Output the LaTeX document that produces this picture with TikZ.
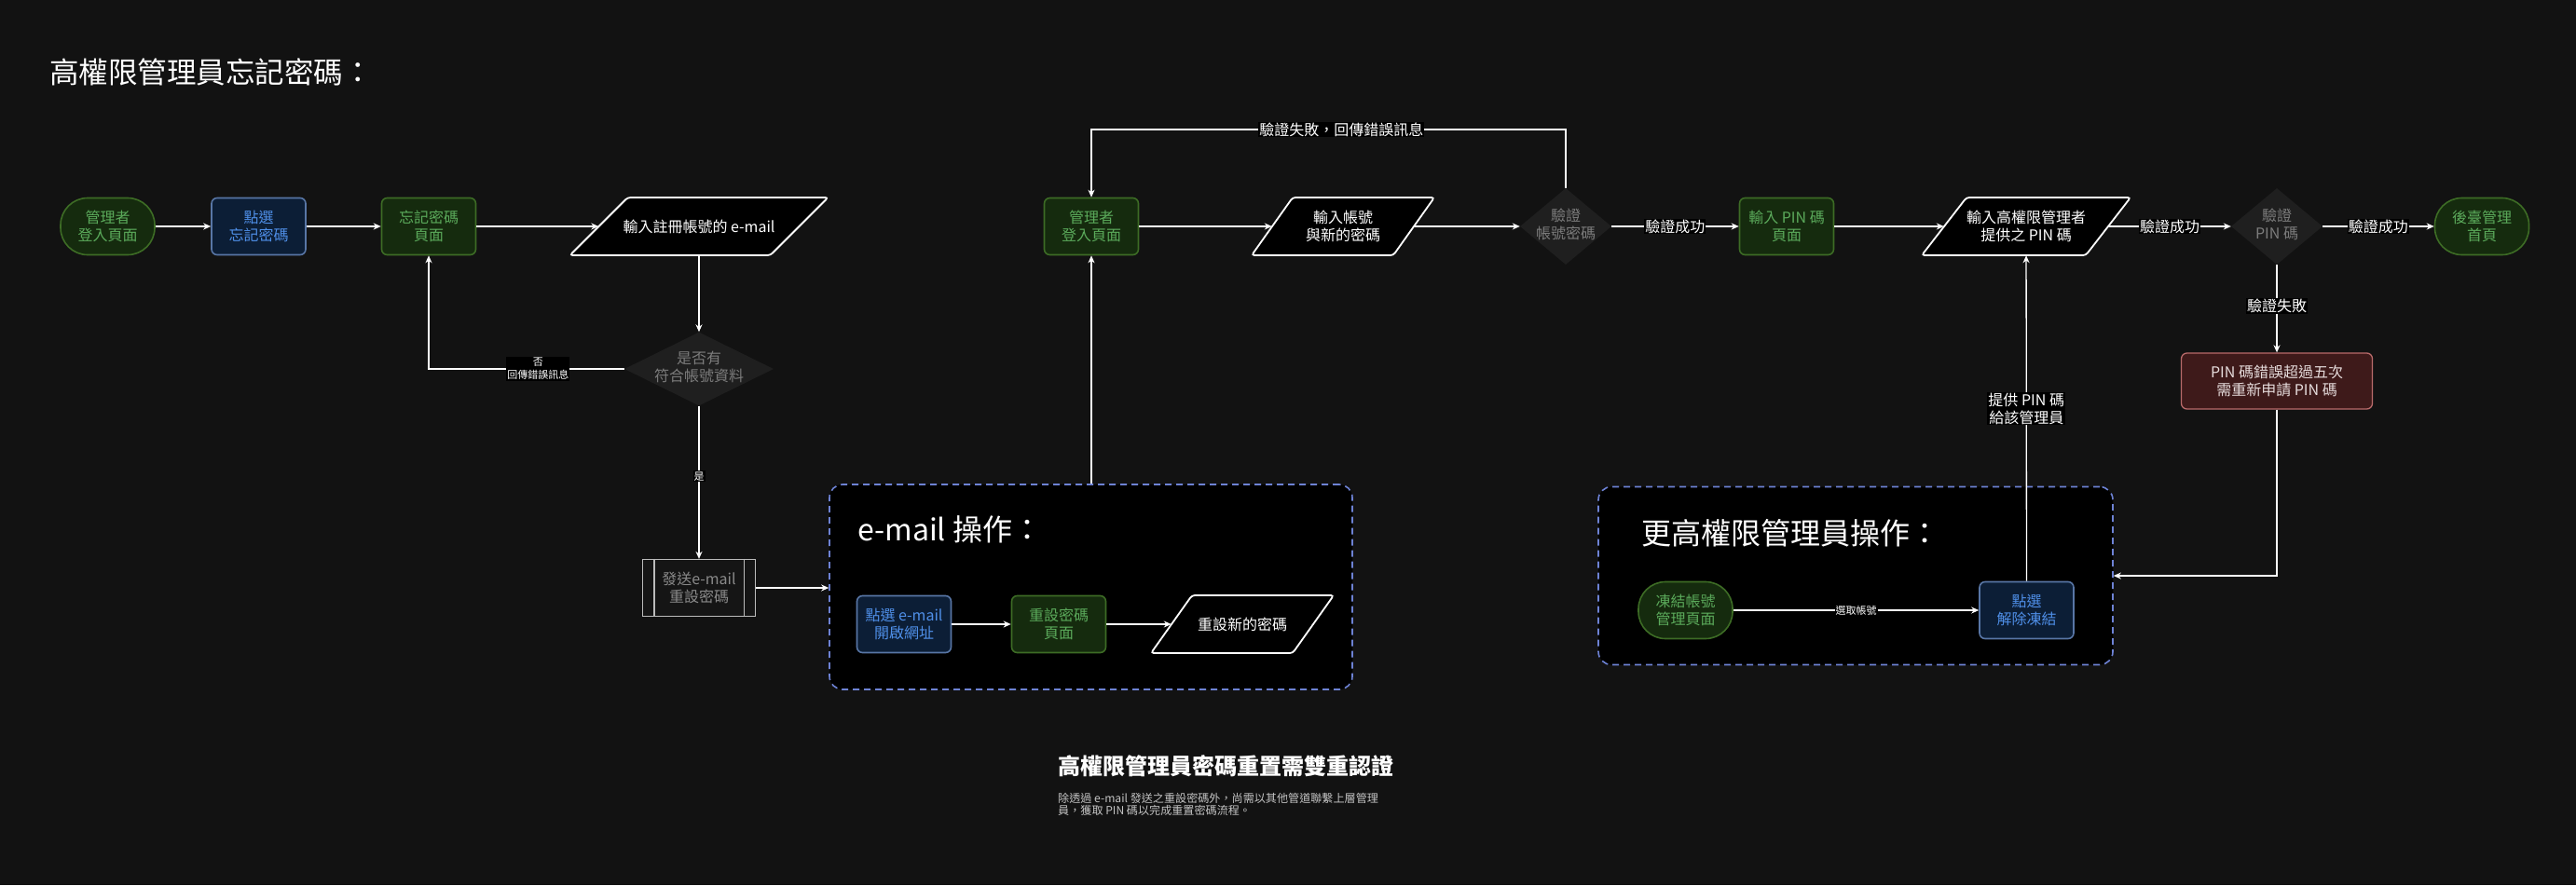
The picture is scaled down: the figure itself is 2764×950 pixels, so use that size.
\documentclass[tikz,border=0pt]{standalone}
\usepackage{fontspec}
\setmainfont{Noto Sans CJK TC}
\usetikzlibrary{shapes.geometric,arrows.meta,calc}
\definecolor{bg}{HTML}{121212}
\definecolor{gfill}{HTML}{152B0E}
\definecolor{gborder}{HTML}{3D6C25}
\definecolor{gtext}{HTML}{5BAA5B}
\definecolor{bfill}{HTML}{0C1E36}
\definecolor{bborder}{HTML}{5876A6}
\definecolor{btext}{HTML}{4F8FE8}
\definecolor{dfill}{HTML}{1F1F1F}
\definecolor{dtext}{HTML}{7C7C7C}
\definecolor{procb}{HTML}{BBBBBB}
\definecolor{procf}{HTML}{151515}
\definecolor{proct}{HTML}{8A8A8A}
\definecolor{rfill}{HTML}{3E1A1A}
\definecolor{rborder}{HTML}{B86A6A}
\definecolor{rtext}{HTML}{E6DCDC}
\definecolor{cborder}{HTML}{6D82D4}
\definecolor{desc}{HTML}{C4C4C4}
\newcommand\dmtext[1]{\makebox[0pt]{\begin{tabular}{@{}c@{}}#1\end{tabular}}}
\newcommand\paranode[6]{%
  \filldraw[pshape] (#2-#4/2, #3+31) -- (#2-#4/2+#5, #3-31) -- (#2+#4/2, #3-31) -- (#2+#4/2-#5, #3+31) -- cycle;
  \node[ptext, minimum width=#4-#5] (#1) at (#2,#3) {#6};
}
\tikzset{
  base/.style={font=\fontsize{16}{19}\selectfont, align=center, inner sep=2pt},
  gbox/.style={base, rectangle, rounded corners=6pt, draw=gborder, fill=gfill, text=gtext, line width=1.6pt, minimum width=101pt, minimum height=61pt},
  gstad/.style={gbox, rounded corners=29pt},
  bbox/.style={base, rectangle, rounded corners=6pt, draw=bborder, fill=bfill, text=btext, line width=1.6pt, minimum width=101pt, minimum height=61pt},
  dia/.style={font=\fontsize{16}{19}\selectfont, diamond, fill=dfill, text=dtext, minimum width=98pt, minimum height=82pt, inner sep=0pt},
  ptext/.style={base, text=white, minimum height=62pt, inner sep=0pt},
  pshape/.style={fill=black, draw=white, line width=1.8pt, rounded corners=3pt},
  proc/.style={base, rectangle, draw=procb, fill=procf, text=proct, line width=1.2pt, minimum width=121pt, minimum height=61pt},
  redbox/.style={base, rectangle, rounded corners=6pt, draw=rborder, fill=rfill, text=rtext, line width=1.3pt, minimum width=205pt, minimum height=60pt},
  cont/.style={rectangle, draw=cborder, fill=black, dash pattern=on 7pt off 5pt, line width=1.6pt, rounded corners=14pt},
  arr/.style={draw=white, line width=1.3pt, -{Stealth[length=8pt,width=7pt]}},
  elab/.style={fill=black, text=white, inner sep=1pt, font=\fontsize{16}{19}\selectfont, align=center},
  slab/.style={fill=black, text=white, inner sep=1pt, font=\fontsize{11}{14}\selectfont, align=center},
  ctitle/.style={anchor=west, inner sep=0pt, text=white, font=\fontsize{32}{38}\selectfont},
}
\begin{document}
\begin{tikzpicture}[x=1pt,y=-1pt]
\fill[bg] (0,0) rectangle (2764,950);
\useasboundingbox (0,0) rectangle (2764,950);

% title
\node[anchor=west, inner sep=0pt, text=white, font=\fontsize{31.5}{38}\selectfont] (title) at (53,77) {高權限管理員忘記密碼：};

% containers
\node[cont, minimum width=561pt, minimum height=220pt] (cbox1) at (1170.5,630) {};
\node[cont, minimum width=552pt, minimum height=191pt] (cbox2) at (1991,618) {};
\node[ctitle] (t1) at (920,568) {e-mail 操作：};
\node[ctitle] (t2) at (1761,572) {更高權限管理員操作：};

% row 1 left
\node[gstad] (A1) at (115.5,243) {管理者\\登入頁面};
\node[bbox] (A2) at (277.5,243) {點選\\忘記密碼};
\node[gbox] (A3) at (460,243) {忘記密碼\\頁面};
\paranode{A4}{750}{243}{277}{62}{輸入註冊帳號的 e-mail}
\node[dia, minimum width=160pt, minimum height=79pt] (Q1) at (750,396) {\dmtext{是否有\\符合帳號資料}};
\node[proc] (P1) at (750,631) {發送e-mail\\重設密碼};
\draw[procb, line width=1.2pt] ([xshift=13pt]P1.north west) -- ([xshift=13pt]P1.south west);
\draw[procb, line width=1.2pt] ([xshift=-13pt]P1.north east) -- ([xshift=-13pt]P1.south east);

% e-mail container content
\node[bbox] (D1) at (970,670) {點選 e-mail\\開啟網址};
\node[gbox] (D2) at (1136,670) {重設密碼\\頁面};
\paranode{D3}{1333}{670}{196}{44}{重設新的密碼}

% row 1 right
\node[gbox] (B1) at (1171,243) {管理者\\登入頁面};
\paranode{B2}{1441}{243}{196}{44}{輸入帳號\\與新的密碼}
\node[dia] (B3) at (1680,243) {\dmtext{驗證\\帳號密碼}};
\node[gbox] (C1) at (1917,243) {輸入 PIN 碼\\頁面};
\paranode{C2}{2174}{243}{224}{48}{輸入高權限管理者\\提供之 PIN 碼}
\node[dia] (C3) at (2443,243) {\dmtext{驗證\\PIN 碼}};
\node[gstad] (C4) at (2663,243) {後臺管理\\首頁};
\node[redbox] (F1) at (2443,409) {PIN 碼錯誤超過五次\\需重新申請 PIN 碼};

% higher admin container content
\node[gstad] (E1) at (1808.5,655) {凍結帳號\\管理頁面};
\node[bbox] (E2) at (2174.5,655) {點選\\解除凍結};

\coordinate (loopY) at (0,139);

% connectors
\draw[arr] (A1) -- (A2);
\draw[arr] (A2) -- (A3);
\draw[arr] (A3) -- (A4);
\draw[arr] (A4) -- (Q1);
\draw[arr] (Q1.west) -| node[pos=0.22, slab] {否\\回傳錯誤訊息} (A3.south);
\draw[arr] (Q1) -- node[pos=0.46, slab] {是} (P1);
\draw[arr] (P1.east) -- (P1.east -| cbox1.west);
\draw[arr] (D1) -- (D2);
\draw[arr] (D2) -- (D3);
\draw[arr] (B1 |- cbox1.north) -- (B1.south);
\draw[arr] (B1) -- (B2);
\draw[arr] (B2) -- (B3);
\draw[arr] (B3.north) -- (B3.north |- loopY) -- node[pos=0.473, elab] {驗證失敗，回傳錯誤訊息} (B1.north |- loopY) -- (B1.north);
\draw[arr] (B3) -- node[elab] {驗證成功} (C1);
\draw[arr] (C1) -- (C2);
\draw[arr] (C2) -- node[elab] {驗證成功} (C3);
\draw[arr] (C3) -- node[elab] {驗證成功} (C4);
\draw[arr] (C3) -- node[pos=0.47, elab] {驗證失敗} (F1);
\draw[arr] (F1.south) |- (cbox2.east);
\draw[arr] (E1) -- node[slab] {選取帳號} (E2);
\draw[arr] (E2) -- node[pos=0.53, elab] {提供 PIN 碼\\給該管理員} (C2);

% footer text
\node[anchor=west, inner sep=0pt, text=white, font=\fontsize{24}{28}\selectfont\bfseries] (head) at (1135,822) {高權限管理員密碼重置需雙重認證};
\node[anchor=north west, inner sep=0pt, text=desc, align=left, font=\fontsize{12.1}{13.5}\selectfont] (body) at (1135,851) {除透過 e-mail 發送之重設密碼外，尚需以其他管道聯繫上層管理\\員，獲取 PIN 碼以完成重置密碼流程。};
\end{tikzpicture}
\end{document}
